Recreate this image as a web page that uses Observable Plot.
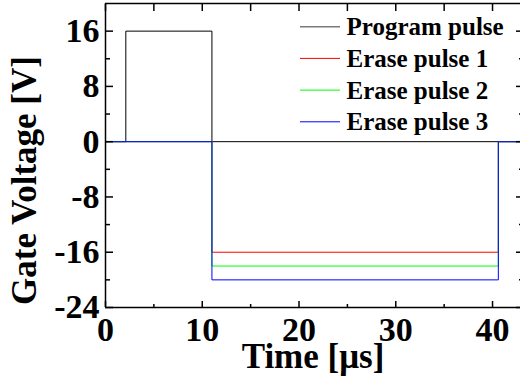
<!DOCTYPE html>
<html>
<head>
<meta charset="utf-8">
<script src="https://cdn.jsdelivr.net/npm/d3@7"></script>
<script src="https://cdn.jsdelivr.net/npm/@observablehq/plot@0.6"></script>
<style>
  body { margin: 0; background: #fff; }
  #chart { position: relative; width: 520px; height: 383px; overflow: hidden; }
  #chart svg { font-family: "Liberation Serif", "Times New Roman", serif; }
</style>
</head>
<body>
<div id="chart"></div>
<script>
// Gate voltage waveforms: one program pulse and three erase pulses of increasing depth
const seriesNames = ["Program pulse", "Erase pulse 1", "Erase pulse 2", "Erase pulse 3"];
const seriesColors = ["#000000", "#ff0000", "#00ff00", "#0000ff"];

const programTime = [0, 2.1, 2.1, 11, 11, 43.2];
const programVolt = [0, 0, 16, 16, 0, 0];

const eraseTime = [0, 11, 11, 40.6, 40.6, 43.2];
const erase1Volt = [0, 0, -16, -16, 0, 0];
const erase2Volt = [0, 0, -18, -18, 0, 0];
const erase3Volt = [0, 0, -20, -20, 0, 0];

const xMajorTicks = [0, 10, 20, 30, 40];
const xMinorTicks = [5, 15, 25, 35];
const yMajorTicks = [16, 8, 0, -8, -16, -24];
const yMinorTicks = [12, 4, -4, -12, -20];
const xDomain = [0, 43.2];
const yDomain = [-24, 20];
const xTitle = "Time [μs]";
const yTitle = "Gate Voltage [V]";

// long-format table for the line mark
const rows = [];
programTime.forEach((t, i) => rows.push({series: seriesNames[0], t, v: programVolt[i]}));
[erase1Volt, erase2Volt, erase3Volt].forEach((vals, k) =>
  eraseTime.forEach((t, i) => rows.push({series: seriesNames[k + 1], t, v: vals[i]}))
);

const bold = {fontWeight: "bold", label: null};
const fmt = d => `${d}`;

const chart = Plot.plot({
  width: 520,
  height: 383,
  marginLeft: 105,
  marginRight: 0,
  marginTop: 3,
  marginBottom: 76,
  style: {background: "white", fontFamily: "Liberation Serif"},
  x: {domain: xDomain, range: [105, 523]},
  y: {domain: yDomain},
  color: {domain: seriesNames, range: seriesColors},
  marks: [
    Plot.line(rows, {x: "t", y: "v", z: "series", stroke: "series", strokeWidth: 1}),

    // frame: left, top and bottom edges
    Plot.ruleX([xDomain[0]], {strokeWidth: 1.5}),
    Plot.ruleY(yDomain, {strokeWidth: 1.5}),

    // inward ticks on all four sides
    Plot.axisX(xMajorTicks, {anchor: "bottom", tickSize: 6, dy: -6, fill: "none", strokeWidth: 1.5, label: null}),
    Plot.axisX(xMinorTicks, {anchor: "bottom", tickSize: 3, dy: -3, fill: "none", strokeWidth: 1.5, label: null}),
    Plot.axisX(xMajorTicks, {anchor: "top", tickSize: 7, dy: 7, fill: "none", strokeWidth: 1.5, label: null}),
    Plot.axisX(xMinorTicks, {anchor: "top", tickSize: 7, dy: 7, fill: "none", strokeWidth: 1.5, label: null}),
    Plot.axisY(yMajorTicks, {anchor: "left", tickSize: 8, dx: 8, fill: "none", strokeWidth: 1.5, label: null}),
    Plot.axisY(yMinorTicks, {anchor: "left", tickSize: 5, dx: 5, fill: "none", strokeWidth: 1.5, label: null}),
    Plot.axisY(yMajorTicks, {anchor: "right", tickSize: 8, dx: -5, fill: "none", strokeWidth: 1.5, label: null}),
    Plot.axisY(yMinorTicks, {anchor: "right", tickSize: 5, dx: -2, fill: "none", strokeWidth: 1.5, label: null}),

    // tick labels
    Plot.axisX(xMajorTicks, {anchor: "bottom", tickSize: 0, tickPadding: 9, fontSize: 34, tickFormat: fmt, ...bold}),
    Plot.axisY(yMajorTicks, {anchor: "left", tickSize: 0, tickPadding: 6, fontSize: 34, tickFormat: fmt, ...bold}),

    // axis titles
    Plot.text([xTitle], {frameAnchor: "bottom", lineAnchor: "middle", textAnchor: "middle", dy: 49, fontSize: 35, fontWeight: "bold"}),
    Plot.text([yTitle], {frameAnchor: "left", lineAnchor: "middle", textAnchor: "middle", rotate: -90, dx: -81, dy: 25, fontSize: 35, fontWeight: "bold"})
  ]
});

const host = document.getElementById("chart");
host.appendChild(chart);

// legend in the upper right corner of the plot area
const legend = d3.create("svg")
  .attr("width", 520)
  .attr("height", 383)
  .style("position", "absolute")
  .style("left", "0px")
  .style("top", "0px")
  .style("font-family", "'Liberation Serif', 'Times New Roman', serif");
const rowTop = 26.7, rowStep = 31.7;
seriesNames.forEach((name, i) => {
  const y = rowTop + i * rowStep;
  legend.append("line")
    .attr("x1", 300).attr("x2", 340)
    .attr("y1", y).attr("y2", y)
    .attr("stroke", i === 0 ? "#7a7a7a" : seriesColors[i])
    .attr("stroke-width", i === 0 ? 1.5 : 1);
  legend.append("text")
    .attr("x", 346.5).attr("y", y + 8.5)
    .attr("font-size", 25)
    .attr("font-weight", "bold")
    .text(name);
});
host.appendChild(legend.node());
</script>
</body>
</html>
